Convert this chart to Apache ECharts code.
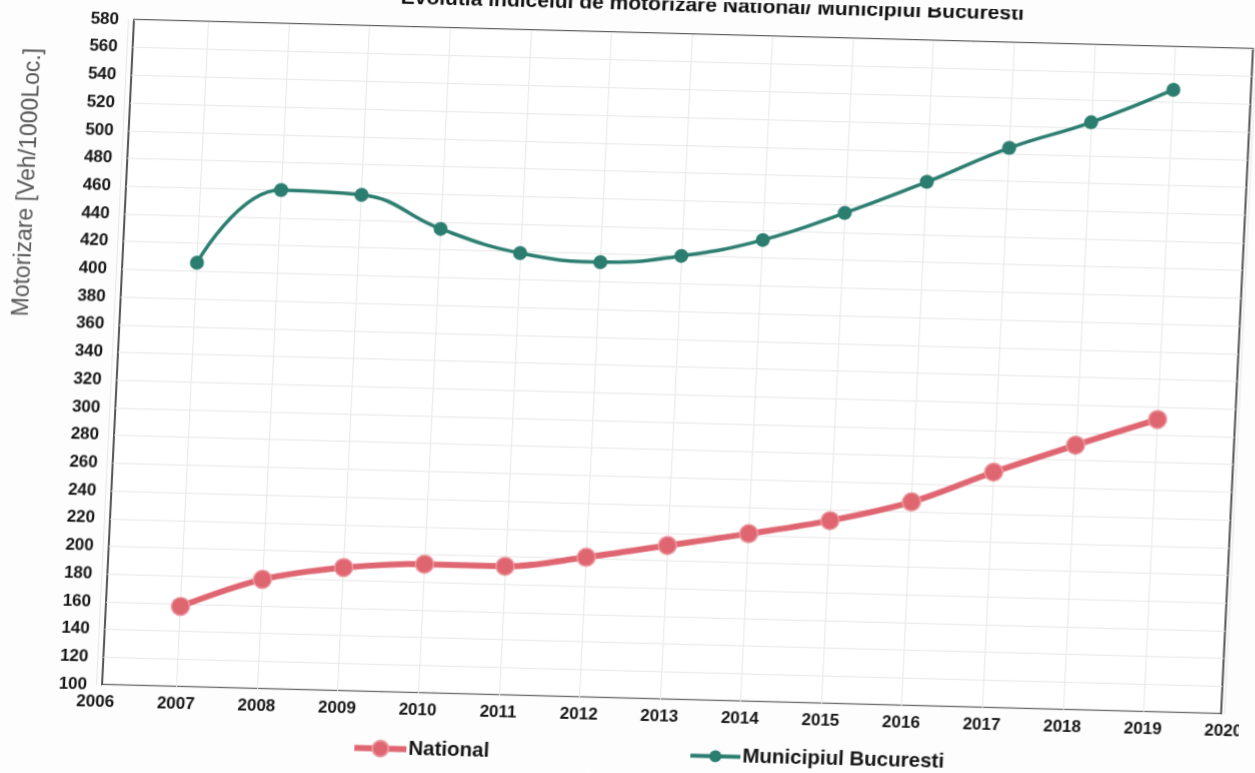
<!DOCTYPE html>
<html>
<head>
<meta charset="utf-8">
<title>Evolutia indicelui de motorizare</title>
<script src="https://cdn.jsdelivr.net/npm/echarts@6/dist/echarts.min.js"></script>
<style>
  html, body { margin: 0; padding: 0; background: #fdfdfd; overflow: hidden; }
  #chart {
    position: absolute; left: 0; top: 0;
    width: 1255px; height: 773px;
    /* slight tilt of the whole sheet */
    transform: matrix(1, 0.026, -0.048, 1, 0, 0);
    transform-origin: 50% 50%;
  }
</style>
</head>
<body>
<div id="chart"></div>
<script>
// Years on the horizontal axis (first and last are empty slots)
const years = ['2006', '2007', '2008', '2009', '2010', '2011', '2012', '2013',
               '2014', '2015', '2016', '2017', '2018', '2019', '2020'];

// Vehicles per 1000 inhabitants
const national   = [null, 158, 179, 189, 193, 193, 201, 211, 221, 232, 247, 270, 291, 311, null];
const bucuresti  = [null, 406, 460, 458, 435, 419, 414, 420, 433, 454, 478, 504, 524, 549, null];

const yMin = 100, yMax = 580, yStep = 20;

const FONT = "'Liberation Sans', Arial, sans-serif";
const RED = '#df6671';
const TEAL = '#2a7d6f';

const chart = echarts.init(document.getElementById('chart'), null, { renderer: 'canvas' });

chart.setOption({
  animation: false,
  backgroundColor: '#fdfdfd',
  textStyle: { fontFamily: FONT },
  grid: [
    // plot frame with value labels and horizontal gridlines
    {
      left: 117, right: 19, top: 33, bottom: 75,
      outerBoundsMode: 'none',
      containLabel: false,
      show: true,
      backgroundColor: '#ffffff',
      borderColor: '#1c1c1c',
      borderWidth: 1.5
    },
    // data area (category slots 2006..2020)
    { left: 111, right: 16, top: 33, bottom: 75, outerBoundsMode: 'none', containLabel: false }
  ],
  graphic: [
    {
      type: 'text',
      x: 694, y: 15,
      style: {
        text: 'Evolutia indicelui de motorizare National/ Municipiul Bucuresti',
        font: 'bold 21px ' + FONT,
        fill: '#111',
        textAlign: 'center',
        textVerticalAlign: 'bottom'
      }
    },
    {
      type: 'text',
      x: 19, y: 198,
      rotation: Math.PI / 2,
      style: {
        text: 'Motorizare [Veh/1000Loc.]',
        font: '23px ' + FONT,
        fill: '#555',
        textAlign: 'center',
        textVerticalAlign: 'middle'
      }
    }
  ],
  legend: [
    {
      data: ['National'],
      left: 364, top: 739,
      itemWidth: 52, itemHeight: 20, itemGap: 0,
      lineStyle: { width: 6 },
      textStyle: { fontFamily: FONT, fontSize: 20.5, fontWeight: 'bold', color: '#151515', padding: [0, 0, 0, -3] }
    },
    {
      data: ['Municipiul Bucuresti'],
      left: 701, top: 738,
      itemWidth: 50, itemHeight: 15, itemGap: 0,
      lineStyle: { width: 4 },
      textStyle: { fontFamily: FONT, fontSize: 20.5, fontWeight: 'bold', color: '#151515', padding: [0, 0, 0, -3] }
    }
  ],
  xAxis: [
    {
      gridIndex: 0,
      type: 'value',
      min: 0, max: 1,
      show: false
    },
    {
      gridIndex: 1,
      type: 'category',
      data: years,
      boundaryGap: false,
      axisLine: { show: false },
      axisTick: { show: false },
      axisLabel: {
        interval: 0,
        margin: 9,
        fontSize: 17,
        fontWeight: 'bold',
        color: '#151515',
        fontFamily: FONT
      },
      splitLine: { show: true, interval: 0, lineStyle: { color: '#e8e8e8', width: 1 } }
    }
  ],
  yAxis: [
    {
      gridIndex: 0,
      type: 'value',
      min: yMin, max: yMax, interval: yStep,
      axisLine: { show: false },
      axisTick: { show: false },
      axisLabel: {
        margin: 15,
        fontSize: 17,
        fontWeight: 'bold',
        color: '#151515',
        fontFamily: FONT
      },
      splitLine: { show: true, lineStyle: { color: '#e8e8e8', width: 1 } }
    },
    {
      gridIndex: 1,
      type: 'value',
      min: yMin, max: yMax, interval: yStep,
      show: false,
      splitLine: { show: false }
    }
  ],
  series: [
    {
      name: 'National',
      type: 'line',
      xAxisIndex: 1, yAxisIndex: 1,
      data: national,
      smooth: 0.35,
      connectNulls: false,
      symbol: 'circle',
      symbolSize: 18,
      lineStyle: { color: RED, width: 6 },
      itemStyle: { color: RED, borderColor: '#eb9aa0', borderWidth: 1.5 },
      z: 3
    },
    {
      name: 'Municipiul Bucuresti',
      type: 'line',
      xAxisIndex: 1, yAxisIndex: 1,
      data: bucuresti,
      smooth: 0.45,
      connectNulls: false,
      symbol: 'circle',
      symbolSize: 14,
      lineStyle: { color: TEAL, width: 3.5 },
      itemStyle: { color: TEAL },
      z: 3
    }
  ]
});
</script>
</body>
</html>
